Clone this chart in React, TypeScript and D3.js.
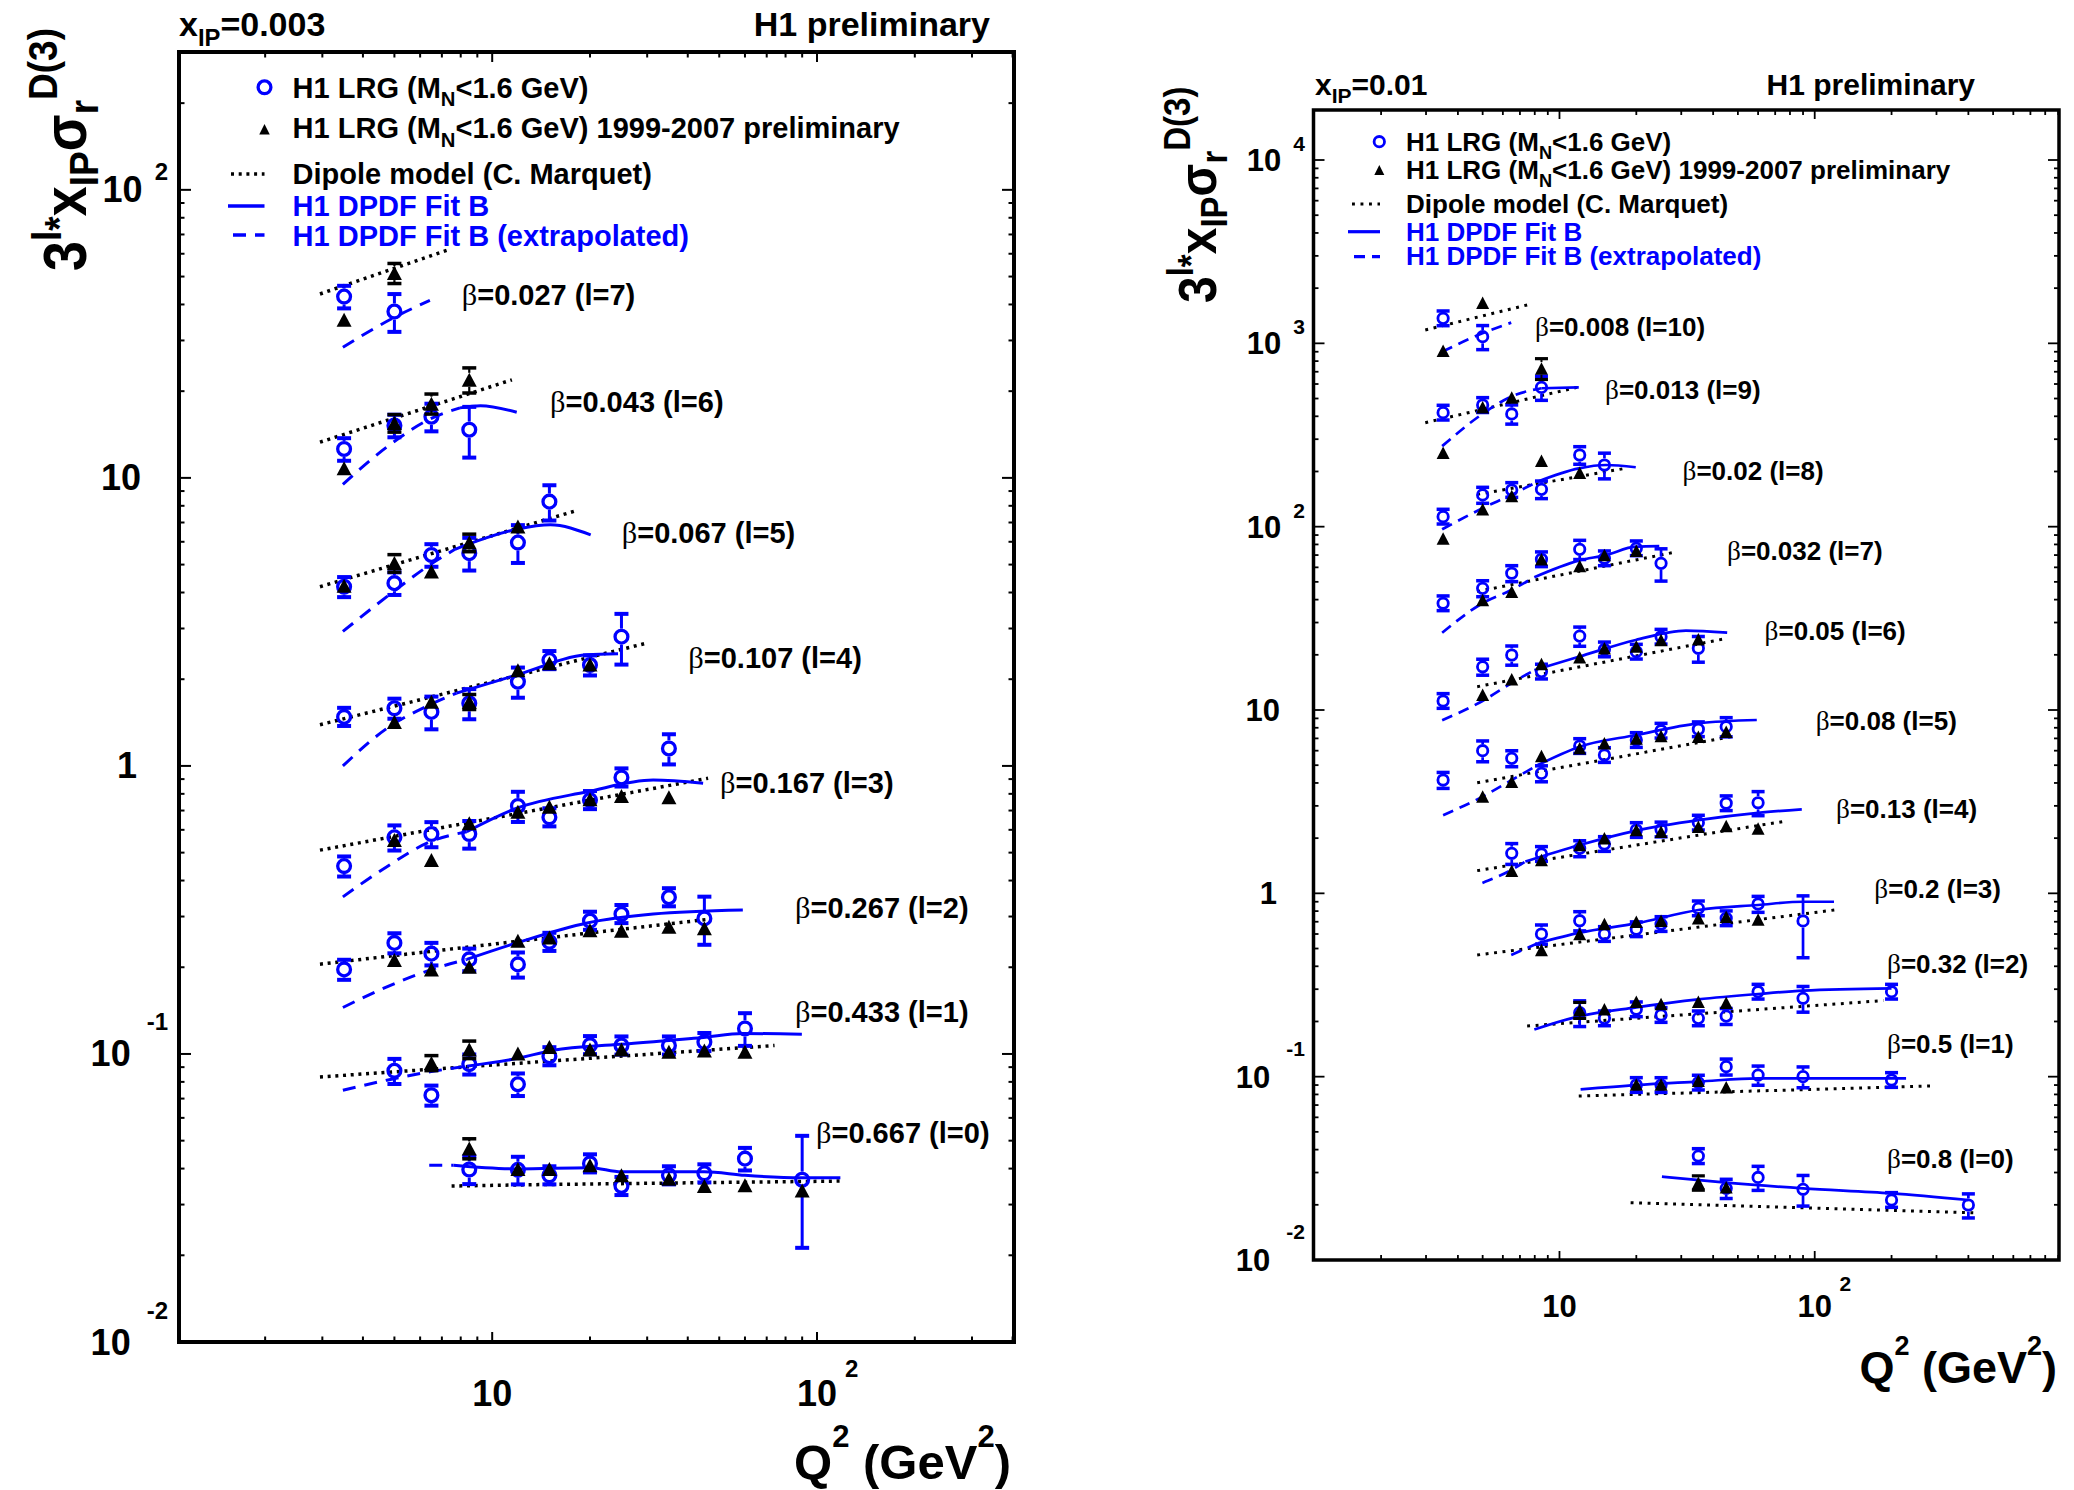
import React, { useEffect } from "react";
import * as d3 from "d3";

type Pt = [number, number];
type EPt = [number, number, number];

const SANS = "'Liberation Sans', Arial, Helvetica, sans-serif";
const SERIF = "'Liberation Serif', 'Times New Roman', serif";
const BLUE = "#0000ff";
const SX = 1.0;
const YT_SX = 1.12;

// ================= LEFT PANEL DATA (x_IP = 0.003) =================
const LEFT_XIP = "0.003";
const LEFT_X_DOMAIN: [number, number] = [1.086, 404];
const LEFT_Y_DOMAIN: [number, number] = [0.01, 301];
const LEFT_Y_TICK_EXP = [-2, -1, 0, 1, 2];
const LEFT_X_TICK_EXP = [1, 2];
const LEFT_BETA = ["0.027", "0.043", "0.067", "0.107", "0.167", "0.267", "0.433", "0.667"];
const LEFT_L = [7, 6, 5, 4, 3, 2, 1, 0];

// [Q2, value, relative error]
const LEFT_LRG: EPt[][] = [
  [[3.5, 42.6, 0.09], [5, 37.8, 0.15]],
  [[3.5, 12.6, 0.09], [5, 15.2, 0.09], [6.5, 16.3, 0.11], [8.5, 14.7, 0.2]],
  [[3.5, 4.19, 0.08], [5, 4.31, 0.09], [6.5, 5.4, 0.09], [8.5, 5.48, 0.13], [12, 5.96, 0.15], [15, 8.27, 0.14]],
  [[3.5, 1.48, 0.07], [5, 1.585, 0.08], [6.5, 1.54, 0.13], [8.5, 1.65, 0.12], [12, 1.96, 0.12], [15, 2.33, 0.05], [20, 2.24, 0.08], [25, 2.81, 0.2]],
  [[3.5, 0.449, 0.08], [5, 0.565, 0.1], [6.5, 0.58, 0.1], [8.5, 0.58, 0.11], [12, 0.726, 0.12], [15, 0.663, 0.06], [20, 0.761, 0.06], [25, 0.912, 0.07], [35, 1.15, 0.12]],
  [[3.5, 0.1966, 0.08], [5, 0.243, 0.08], [6.5, 0.223, 0.09], [8.5, 0.213, 0.09], [12, 0.2046, 0.1], [15, 0.245, 0.04], [20, 0.29, 0.06], [25, 0.306, 0.06], [35, 0.35, 0.07], [45, 0.2955, 0.19]],
  [[5, 0.0874, 0.1], [6.5, 0.0719, 0.08], [8.5, 0.0922, 0.08], [12, 0.0785, 0.09], [15, 0.0982, 0.04], [20, 0.1073, 0.05], [25, 0.107, 0.04], [35, 0.107, 0.05], [45, 0.11, 0.06], [60, 0.1226, 0.13]],
  [[8.5, 0.0397, 0.11], [12, 0.0396, 0.11], [15, 0.0379, 0.04], [20, 0.0417, 0.05], [25, 0.0348, 0.05], [35, 0.0379, 0.04], [45, 0.0385, 0.06], [60, 0.0433, 0.09], [90, 0.0366, 0.42]],
];

const LEFT_PRELIM: EPt[][] = [
  [[3.5, 35.4, 0.05], [5, 51.4, 0.08]],
  [[3.5, 10.8, 0.05], [5, 15.5, 0.07], [6.5, 18.1, 0.08], [8.5, 21.9, 0.1]],
  [[3.5, 4.22, 0.03], [5, 5.06, 0.07], [6.5, 4.73, 0.05], [8.5, 5.96, 0.07], [12, 6.78, 0.04]],
  [[5, 1.42, 0.03], [6.5, 1.67, 0.05], [8.5, 1.67, 0.06], [12, 2.15, 0.05], [15, 2.27, 0.03], [20, 2.25, 0.04]],
  [[5, 0.553, 0.03], [6.5, 0.471, 0.03], [8.5, 0.632, 0.05], [12, 0.693, 0.03], [15, 0.722, 0.03], [20, 0.766, 0.03], [25, 0.786, 0.03], [35, 0.778, 0.03]],
  [[5, 0.212, 0.04], [6.5, 0.1966, 0.03], [8.5, 0.2007, 0.03], [12, 0.247, 0.03], [15, 0.2538, 0.03], [20, 0.269, 0.03], [25, 0.268, 0.03], [35, 0.2764, 0.03], [45, 0.273, 0.03]],
  [[6.5, 0.0931, 0.06], [8.5, 0.1036, 0.07], [12, 0.1004, 0.03], [15, 0.1058, 0.03], [20, 0.1036, 0.03], [25, 0.1036, 0.03], [35, 0.1017, 0.03], [45, 0.1028, 0.03], [60, 0.1017, 0.03]],
  [[8.5, 0.047, 0.08], [12, 0.0399, 0.03], [15, 0.0399, 0.03], [20, 0.0411, 0.03], [25, 0.0379, 0.03], [35, 0.0369, 0.03], [45, 0.0348, 0.03], [60, 0.035, 0.03], [90, 0.0336, 0.03]],
];

const LEFT_DIPOLE: Pt[][] = [
  [[2.95, 43.5], [7.35, 62]],
  [[2.95, 13.3], [11.5, 21.9]],
  [[2.95, 4.19], [18.4, 7.73]],
  [[2.95, 1.39], [29.9, 2.67]],
  [[2.95, 0.51], [46.2, 0.906]],
  [[2.95, 0.205], [45.7, 0.293]],
  [[2.95, 0.0832], [74, 0.107]],
  [[7.5, 0.0348], [14, 0.0352], [118, 0.0362]],
];

const LEFT_FIT: Pt[][] = [
  [],
  [[7.96, 17.5], [9.2, 17.8], [11.9, 16.9]],
  [[7.68, 5.65], [11.9, 6.63], [15.1, 6.87], [20.1, 6.34]],
  [[7.77, 1.79], [11.9, 2.07], [19.6, 2.43], [24.4, 2.45]],
  [[8.35, 0.591], [11.9, 0.713], [19.6, 0.813], [31.3, 0.893], [44.6, 0.87]],
  [[8.35, 0.213], [11.9, 0.243], [19.6, 0.285], [31.3, 0.306], [59.1, 0.316]],
  [[8.35, 0.0907], [11.9, 0.0964], [15.4, 0.103], [24.7, 0.108], [44.6, 0.114], [59.1, 0.1178], [89.8, 0.117]],
  [[7.6, 0.0411], [12, 0.0399], [20, 0.0403], [25, 0.039], [45, 0.039], [60, 0.0379], [90, 0.0372], [118, 0.0372]],
];

const LEFT_FIT_EXTRAP: Pt[][] = [
  [[3.47, 28.4], [5, 36.1], [6.43, 41.3]],
  [[3.47, 9.5], [4.74, 12.8], [6.43, 16.0], [7.96, 17.5]],
  [[3.47, 2.93], [4.74, 3.87], [6.43, 4.99], [7.68, 5.65]],
  [[3.47, 1.0], [4.74, 1.35], [6.43, 1.63], [7.77, 1.79]],
  [[3.47, 0.351], [4.74, 0.447], [6.43, 0.545], [8.35, 0.591]],
  [[3.47, 0.145], [4.74, 0.171], [6.43, 0.1955], [8.35, 0.213]],
  [[3.47, 0.0748], [4.74, 0.0811], [6.43, 0.0867], [8.35, 0.0907]],
  [[6.4, 0.0411], [7.6, 0.0411]],
];

// ================= RIGHT PANEL DATA (x_IP = 0.01) =================
const RIGHT_XIP = "0.01";
const RIGHT_X_DOMAIN: [number, number] = [1.087, 906];
const RIGHT_Y_DOMAIN: [number, number] = [0.01, 18740];
const RIGHT_Y_TICK_EXP = [-2, -1, 0, 1, 2, 3, 4];
const RIGHT_X_TICK_EXP = [1, 2];
const RIGHT_BETA = ["0.008", "0.013", "0.02", "0.032", "0.05", "0.08", "0.13", "0.2", "0.32", "0.5", "0.8"];
const RIGHT_L = [10, 9, 8, 7, 6, 5, 4, 3, 2, 1, 0];

const RIGHT_LRG: EPt[][] = [
  [[3.5, 1369, 0.06], [5, 1087, 0.15]],
  [[3.5, 418.7, 0.08], [5, 461, 0.09], [6.5, 412, 0.12], [8.5, 575, 0.15]],
  [[3.5, 113.4, 0.06], [5, 149, 0.1], [6.5, 158.5, 0.08], [8.5, 159.8, 0.11], [12, 246, 0.11], [15, 217, 0.16]],
  [[3.5, 38.2, 0.08], [5, 46.1, 0.1], [6.5, 55.7, 0.1], [8.5, 66.4, 0.08], [12, 75.2, 0.12], [15, 67.2, 0.06], [20, 76.2, 0.06], [25, 63.1, 0.2]],
  [[3.5, 11.2, 0.08], [5, 17.2, 0.1], [6.5, 19.95, 0.12], [8.5, 16.2, 0.08], [12, 25.3, 0.12], [15, 21.4, 0.06], [20, 20.8, 0.06], [25, 25.1, 0.06], [35, 21.7, 0.16]],
  [[3.5, 4.15, 0.1], [5, 6.0, 0.13], [6.5, 5.45, 0.1], [8.5, 4.51, 0.1], [12, 6.36, 0.08], [15, 5.68, 0.06], [20, 6.86, 0.05], [25, 7.71, 0.05], [35, 7.85, 0.06], [45, 8.11, 0.12]],
  [[6.5, 1.653, 0.13], [8.5, 1.64, 0.08], [12, 1.76, 0.1], [15, 1.858, 0.05], [20, 2.215, 0.06], [25, 2.23, 0.06], [35, 2.43, 0.05], [45, 3.1, 0.06], [60, 3.12, 0.15]],
  [[8.5, 0.6, 0.12], [12, 0.709, 0.12], [15, 0.6, 0.06], [20, 0.637, 0.08], [25, 0.68, 0.06], [35, 0.828, 0.06], [45, 0.731, 0.08], [60, 0.875, 0.1], [90, 0.707, 0.37]],
  [[12, 0.2234, 0.16], [15, 0.208, 0.06], [20, 0.233, 0.06], [25, 0.217, 0.06], [35, 0.208, 0.06], [45, 0.214, 0.1], [60, 0.2907, 0.08], [90, 0.2676, 0.16], [200, 0.2907, 0.06]],
  [[20, 0.09006, 0.06], [25, 0.09, 0.06], [35, 0.0928, 0.06], [45, 0.1134, 0.1], [60, 0.102, 0.12], [90, 0.1, 0.13], [200, 0.0959, 0.06]],
  [[35, 0.0369, 0.09], [45, 0.0246, 0.12], [60, 0.0282, 0.15], [90, 0.0243, 0.19], [200, 0.02125, 0.06], [400, 0.01995, 0.15]],
];

const RIGHT_PRELIM: EPt[][] = [
  [[3.5, 912, 0.05], [5, 1667, 0.07]],
  [[3.5, 253, 0.03], [5, 448, 0.04], [6.5, 507, 0.07], [8.5, 730, 0.13]],
  [[3.5, 86.3, 0.06], [5, 124.4, 0.04], [6.5, 147, 0.04], [8.5, 229, 0.04], [12, 197, 0.04]],
  [[5, 39.8, 0.04], [6.5, 44.2, 0.04], [8.5, 66.4, 0.04], [12, 61, 0.04], [15, 70, 0.04], [20, 74, 0.04]],
  [[5, 12.1, 0.04], [6.5, 14.7, 0.04], [8.5, 17.8, 0.04], [12, 19.4, 0.04], [15, 21.7, 0.04], [20, 22.2, 0.04], [25, 24.1, 0.04], [35, 24.3, 0.07]],
  [[5, 3.37, 0.06], [6.5, 4.06, 0.04], [8.5, 5.61, 0.04], [12, 6.18, 0.04], [15, 6.58, 0.04], [20, 7.0, 0.04], [25, 7.21, 0.04], [35, 7.15, 0.04], [45, 7.62, 0.04]],
  [[6.5, 1.33, 0.04], [8.5, 1.52, 0.04], [12, 1.835, 0.04], [15, 1.995, 0.04], [20, 2.215, 0.04], [25, 2.17, 0.04], [35, 2.31, 0.04], [45, 2.33, 0.04], [60, 2.26, 0.04]],
  [[8.5, 0.491, 0.04], [12, 0.6, 0.04], [15, 0.68, 0.04], [20, 0.7, 0.04], [25, 0.709, 0.04], [35, 0.731, 0.04], [45, 0.746, 0.04], [60, 0.721, 0.04]],
  [[12, 0.231, 0.1], [15, 0.233, 0.04], [20, 0.2564, 0.04], [25, 0.249, 0.04], [35, 0.2564, 0.04], [45, 0.253, 0.04]],
  [[20, 0.0905, 0.04], [25, 0.0905, 0.04], [35, 0.0951, 0.04], [45, 0.0875, 0.04]],
  [[35, 0.0264, 0.09], [45, 0.0249, 0.04]],
];

const RIGHT_DIPOLE: Pt[][] = [
  [[2.98, 1183], [7.47, 1619]],
  [[2.98, 369], [11.7, 575]],
  [[4.76, 150], [18.1, 208]],
  [[4.76, 44.3], [28.9, 73]],
  [[4.76, 13.4], [45.4, 24.6]],
  [[4.76, 4.01], [46.8, 7.15]],
  [[4.76, 1.33], [74.7, 2.46]],
  [[4.76, 0.461], [119.3, 0.811]],
  [[7.47, 0.189], [186, 0.26]],
  [[11.9, 0.0784], [289, 0.089]],
  [[19, 0.02055], [418, 0.0181]],
];

const RIGHT_FIT: Pt[][] = [
  [],
  [[8.5, 569], [11.9, 575]],
  [[8.2, 176], [11.9, 208], [15.2, 217], [19.9, 211]],
  [[7.97, 53], [11.9, 65.3], [15.2, 70], [19.9, 77.8], [24.6, 78.4]],
  [[7.97, 16.5], [11.9, 19.5], [19.9, 24.1], [31.3, 27.1], [45.4, 26.4]],
  [[8.09, 4.95], [12, 6.31], [20, 7.31], [35, 8.46], [59.3, 8.82]],
  [[7.35, 1.49], [12, 1.835], [20, 2.2], [35, 2.51], [60, 2.75], [89, 2.87]],
  [[8.23, 0.534], [12, 0.61], [20, 0.686], [35, 0.811], [60, 0.864], [90, 0.9], [119, 0.9]],
  [[7.97, 0.181], [12, 0.214], [20, 0.239], [35, 0.264], [60, 0.2825], [90, 0.2945], [200, 0.303]],
  [[12.1, 0.0853], [20, 0.09], [35, 0.094], [60, 0.098], [90, 0.098], [228, 0.098]],
  [[25.2, 0.02847], [45, 0.0264], [90, 0.0246], [200, 0.0231], [400, 0.02125]],
];

const RIGHT_FIT_EXTRAP: Pt[][] = [
  [[3.47, 900], [4.99, 1135], [6.47, 1297]],
  [[3.47, 275], [4.99, 412], [6.47, 512], [8.5, 569]],
  [[3.47, 96.7], [4.99, 126], [6.47, 149], [8.2, 176]],
  [[3.47, 26.4], [4.99, 38.2], [6.47, 45.1], [7.97, 53]],
  [[3.47, 8.8], [4.99, 11.2], [6.47, 14.0], [7.97, 16.5]],
  [[3.5, 2.67], [5, 3.37], [6.5, 4.15], [8.09, 4.95]],
  [[4.99, 1.14], [6.47, 1.34], [7.35, 1.49]],
  [[6.47, 0.461], [8.23, 0.534]],
  [],
  [],
  [],
];

// ================= LAYOUT / STYLE =================
type Layout = {
  x0: number; x1: number; y0: number; y1: number; frameW: number;
  tickMajor: number; tickMinor: number; tickW: number;
  markR: number; markSW: number; errW: number; capW: number; capH: number;
  triW: number; triH: number; triErrW: number; triCapW: number; triCapH: number;
  dotDash: string; dotW: number; dashDash: string; lineW: number;
  betaF: number; betaPos: Pt[];
  yLab: { f: number; ef: number; base: number; end: number; end1: number; end0: number; posRaise: number; negRaise: number; posDx: number; negDx: number };
  xLab: { f: number; ef: number; base: number; expDx: number; expBase: number };
  xTitle: { end: number; base: number; f: number; sf: number; raise: number };
  yTitle: { x: number; y: number; f: number; sf: number };
  title: { x: number; end: number; base: number; f: number };
  legend: { mx: number; tx: number; f: number; ys: number[]; tb: number[]; lx0: number[]; lx1: number; triS: number };
};

const LEFT_LAYOUT: Layout = {
  x0: 179, x1: 1014, y0: 52, y1: 1342, frameW: 4,
  tickMajor: 10, tickMinor: 5.5, tickW: 2,
  markR: 6.4, markSW: 3.3, errW: 3, capW: 14, capH: 4,
  triW: 15, triH: 14, triErrW: 2.2, triCapW: 14, triCapH: 3.5,
  dotDash: "3 4.7", dotW: 3.5, dashDash: "13 9", lineW: 3,
  betaF: 29,
  betaPos: [[461.7, 305], [550, 411.7], [621.7, 543.3], [688.3, 668.3], [720, 793.3], [795, 918.3], [795, 1021.7], [816, 1143.3]],
  yLab: { f: 36, ef: 24, base: 12.5, end: 168, end1: 141, end0: 137, posRaise: 22, negRaise: 36, posDx: 12, negDx: 16 },
  xLab: { f: 36, ef: 24, base: 1406, expDx: 28, expBase: 1377 },
  xTitle: { end: 1011, base: 1479, f: 49, sf: 31, raise: 32 },
  yTitle: { x: 86, y: 271, f: 54, sf: 37 },
  title: { x: 179, end: 990, base: 36, f: 34 },
  legend: { mx: 264.5, tx: 292.6, f: 29, ys: [87.3, 129.3, 174, 206, 235], tb: [97.5, 138, 184, 216, 245.5], lx0: [231, 228, 233], lx1: 264.5, triS: 10.5 },
};

const RIGHT_LAYOUT: Layout = {
  x0: 1313.5, x1: 2059, y0: 110, y1: 1260, frameW: 3.5,
  tickMajor: 9, tickMinor: 5, tickW: 1.8,
  markR: 5.2, markSW: 2.8, errW: 2.7, capW: 13, capH: 3.5,
  triW: 13, triH: 12.5, triErrW: 2, triCapW: 13, triCapH: 3.2,
  dotDash: "2.9 5.6", dotW: 3, dashDash: "11 7", lineW: 2.7,
  betaF: 26,
  betaPos: [[1535, 336], [1605, 399.3], [1682.5, 480], [1727, 560], [1764.6, 640], [1815.7, 730], [1836, 818.3], [1874.3, 898.3], [1887, 973.3], [1887, 1053.3], [1887, 1168.3]],
  yLab: { f: 31, ef: 21, base: 11, end: 1305, end1: 1280, end0: 1277, posRaise: 20, negRaise: 32, posDx: 12, negDx: 16 },
  xLab: { f: 31, ef: 21, base: 1317, expDx: 24.7, expBase: 1291 },
  xTitle: { end: 2057, base: 1383, f: 45, sf: 27, raise: 28 },
  yTitle: { x: 1216, y: 303, f: 48, sf: 33 },
  title: { x: 1315, end: 1975, base: 95, f: 30 },
  legend: { mx: 1379.3, tx: 1406, f: 26, ys: [141.7, 170, 204, 231.7, 256.7], tb: [150.8, 179, 212.5, 240.8, 265], lx0: [1352, 1348, 1354], lx1: 1380, triS: 10 },
};

// ================= HELPERS =================
function T(props: { x: number; y: number; size: number; anchor?: string; fill?: string; weight?: string; family?: string; children: React.ReactNode }) {
  const { x, y, size, anchor = "start", fill = "#000", weight = "bold", family = SANS, children } = props;
  return (
    <text transform={`translate(${x},${y}) scale(${SX},1)`} fontSize={size} textAnchor={anchor as any} fill={fill} fontWeight={weight} fontFamily={family}>
      {children}
    </text>
  );
}

function logTicks(dom: [number, number]) {
  const res: { v: number; major: boolean }[] = [];
  const e0 = Math.floor(Math.log10(dom[0]));
  const e1 = Math.ceil(Math.log10(dom[1]));
  for (let e = e0; e <= e1; e++) {
    for (let k = 1; k <= 9; k++) {
      const v = k * Math.pow(10, e);
      if (v >= dom[0] * 0.9999 && v <= dom[1] * 1.0001) res.push({ v, major: k === 1 });
    }
  }
  return res;
}

function triPath(cx: number, cy: number, w: number, h: number) {
  return `M${cx - w / 2},${cy + h / 2}L${cx + w / 2},${cy + h / 2}L${cx},${cy - h / 2}Z`;
}

type PanelProps = {
  L: Layout;
  xip: string;
  xDomain: [number, number];
  yDomain: [number, number];
  yTickExp: number[];
  xTickExp: number[];
  beta: string[];
  ls: number[];
  lrg: EPt[][];
  prelim: EPt[][];
  dipole: Pt[][];
  fit: Pt[][];
  fitExtrap: Pt[][];
};

function Panel(p: PanelProps) {
  const L = p.L;
  const x = d3.scaleLog().domain(p.xDomain).range([L.x0, L.x1]);
  const y = d3.scaleLog().domain(p.yDomain).range([L.y1, L.y0]);
  const lin = d3.line<Pt>().x((d) => x(d[0])).y((d) => y(d[1]));
  const smooth = d3.line<Pt>().x((d) => x(d[0])).y((d) => y(d[1])).curve(d3.curveMonotoneX);
  const xt = logTicks(p.xDomain);
  const yt = logTicks(p.yDomain);
  const lg = L.legend;

  const circles = p.lrg.flatMap((s, i) =>
    s.map(([q, v, e], j) => {
      const cx = x(q), cy = y(v);
      const half = L.markR + L.markSW / 2;
      const yTop = y(v * (1 + e));
      const yBot = y(Math.max(v * (1 - e), 1e-9));
      const top = Math.min(yTop, cy - half - L.capH / 2 + 1);
      const bot = Math.max(yBot, cy + half + L.capH / 2 - 1);
      return (
        <g key={`c${i}-${j}`}>
          <line x1={cx} x2={cx} y1={top} y2={cy - half} stroke={BLUE} strokeWidth={L.errW} />
          <line x1={cx} x2={cx} y1={cy + half} y2={bot} stroke={BLUE} strokeWidth={L.errW} />
          <rect x={cx - L.capW / 2} y={top - L.capH / 2} width={L.capW} height={L.capH} fill={BLUE} />
          <rect x={cx - L.capW / 2} y={bot - L.capH / 2} width={L.capW} height={L.capH} fill={BLUE} />
          <circle cx={cx} cy={cy} r={L.markR} fill="none" stroke={BLUE} strokeWidth={L.markSW} />
        </g>
      );
    })
  );

  const triangles = p.prelim.flatMap((s, i) =>
    s.map(([q, v, e], j) => {
      const cx = x(q), cy = y(v);
      const yTop = y(v * (1 + e));
      const yBot = y(Math.max(v * (1 - e), 1e-9));
      const hh = L.triH / 2;
      return (
        <g key={`t${i}-${j}`}>
          {yTop < cy - hh && (
            <g>
              <line x1={cx} x2={cx} y1={yTop} y2={cy - hh} stroke="#000" strokeWidth={L.triErrW} />
              <rect x={cx - L.triCapW / 2} y={yTop - L.triCapH / 2} width={L.triCapW} height={L.triCapH} fill="#000" />
            </g>
          )}
          {yBot > cy + hh && (
            <g>
              <line x1={cx} x2={cx} y1={cy + hh} y2={yBot} stroke="#000" strokeWidth={L.triErrW} />
              <rect x={cx - L.triCapW / 2} y={yBot - L.triCapH / 2} width={L.triCapW} height={L.triCapH} fill="#000" />
            </g>
          )}
          <path d={triPath(cx, cy, L.triW, L.triH)} fill="#000" />
        </g>
      );
    })
  );

  const yl = L.yLab;
  const xl = L.xLab;

  return (
    <g>
      {/* model curves */}
      {p.dipole.map((s, i) =>
        s.length ? <path key={`d${i}`} d={lin(s) || ""} fill="none" stroke="#000" strokeWidth={L.dotW} strokeDasharray={L.dotDash} /> : null
      )}
      {p.fitExtrap.map((s, i) =>
        s.length ? <path key={`fx${i}`} d={smooth(s) || ""} fill="none" stroke={BLUE} strokeWidth={L.lineW} strokeDasharray={L.dashDash} /> : null
      )}
      {p.fit.map((s, i) =>
        s.length ? <path key={`f${i}`} d={smooth(s) || ""} fill="none" stroke={BLUE} strokeWidth={L.lineW} /> : null
      )}
      {circles}
      {triangles}

      {/* frame */}
      <rect x={L.x0} y={L.y0} width={L.x1 - L.x0} height={L.y1 - L.y0} fill="none" stroke="#000" strokeWidth={L.frameW} />
      {xt.map((t, i) => {
        const len = t.major ? L.tickMajor : L.tickMinor;
        const xx = x(t.v);
        return (
          <g key={`xt${i}`}>
            <line x1={xx} x2={xx} y1={L.y1} y2={L.y1 - len} stroke="#000" strokeWidth={L.tickW} />
            <line x1={xx} x2={xx} y1={L.y0} y2={L.y0 + len} stroke="#000" strokeWidth={L.tickW} />
          </g>
        );
      })}
      {yt.map((t, i) => {
        const len = t.major ? L.tickMajor + 2 : L.tickMinor;
        const yy = y(t.v);
        return (
          <g key={`yt${i}`}>
            <line x1={L.x0} x2={L.x0 + len} y1={yy} y2={yy} stroke="#000" strokeWidth={L.tickW} />
            <line x1={L.x1} x2={L.x1 - len} y1={yy} y2={yy} stroke="#000" strokeWidth={L.tickW} />
          </g>
        );
      })}

      {/* y tick labels */}
      {p.yTickExp.map((e) => {
        const yy = y(Math.pow(10, e)) + yl.base;
        if (e === 0) return <T key={`yl${e}`} x={yl.end0} y={yy} size={yl.f} anchor="end">1</T>;
        if (e === 1) return <T key={`yl${e}`} x={yl.end1} y={yy} size={yl.f} anchor="end">10</T>;
        const raise = e < 0 ? yl.negRaise : yl.posRaise;
        return (
          <T key={`yl${e}`} x={yl.end} y={yy} size={yl.f} anchor="end">
            10
            <tspan fontSize={yl.ef} dx={e < 0 ? yl.negDx : yl.posDx} dy={-raise}>{String(e)}</tspan>
          </T>
        );
      })}

      {/* x tick labels */}
      {p.xTickExp.map((e) => {
        const xx = x(Math.pow(10, e));
        return (
          <g key={`xl${e}`}>
            <T x={xx} y={xl.base} size={xl.f} anchor="middle">10</T>
            {e !== 1 && <T x={xx + xl.expDx} y={xl.expBase} size={xl.ef}>{String(e)}</T>}
          </g>
        );
      })}

      {/* beta labels */}
      {p.beta.map((b, i) => (
        <T key={`b${i}`} x={L.betaPos[i][0]} y={L.betaPos[i][1]} size={L.betaF}>
          <tspan fontFamily={SERIF} fontWeight="normal" fontSize={L.betaF * 1.05}>β</tspan>={b} (l={p.ls[i]})
        </T>
      ))}

      {/* titles */}
      <T x={L.title.x} y={L.title.base} size={L.title.f}>
        x<tspan fontSize={L.title.f * 0.7} dy={L.title.f * 0.28}>IP</tspan>
        <tspan dy={-L.title.f * 0.28}>={p.xip}</tspan>
      </T>
      <T x={L.title.end} y={L.title.base} size={L.title.f} anchor="end">H1 preliminary</T>

      {/* x axis title */}
      <T x={L.xTitle.end} y={L.xTitle.base} size={L.xTitle.f} anchor="end">
        Q<tspan fontSize={L.xTitle.sf} dy={-L.xTitle.raise}>2</tspan>
        <tspan dy={L.xTitle.raise}> (GeV</tspan>
        <tspan fontSize={L.xTitle.sf} dy={-L.xTitle.raise}>2</tspan>
        <tspan dy={L.xTitle.raise}>)</tspan>
      </T>

      {/* y axis title */}
      <g transform={`translate(${L.yTitle.x},${L.yTitle.y}) scale(${YT_SX},1) rotate(-90)`}>
        <text fontFamily={SANS} fontWeight="bold" fontSize={L.yTitle.f} fill="#000">
          3
          <tspan fontSize={L.yTitle.sf} dy={-0.42 * L.yTitle.f}>l</tspan>
          <tspan fontSize={L.yTitle.sf} dy={0.2 * L.yTitle.f}>*</tspan>
          <tspan dy={0.22 * L.yTitle.f}>x</tspan>
          <tspan fontSize={L.yTitle.sf} dy={0.2 * L.yTitle.f}>IP</tspan>
          <tspan dy={-0.2 * L.yTitle.f}>σ</tspan>
          <tspan fontSize={L.yTitle.sf} dy={0.2 * L.yTitle.f}>r</tspan>
          <tspan fontSize={L.yTitle.sf} dy={-0.68 * L.yTitle.f}>D(3)</tspan>
        </text>
      </g>

      {/* legend */}
      <circle cx={lg.mx} cy={lg.ys[0]} r={L.markR} fill="none" stroke={BLUE} strokeWidth={L.markSW} />
      <path d={triPath(lg.mx, lg.ys[1], lg.triS, lg.triS)} fill="#000" />
      <line x1={lg.lx0[0]} x2={lg.lx1} y1={lg.ys[2]} y2={lg.ys[2]} stroke="#000" strokeWidth={L.dotW} strokeDasharray={L.dotDash} />
      <line x1={lg.lx0[1]} x2={lg.lx1} y1={lg.ys[3]} y2={lg.ys[3]} stroke={BLUE} strokeWidth={L.lineW + 0.5} />
      <line x1={lg.lx0[2]} x2={lg.lx1} y1={lg.ys[4]} y2={lg.ys[4]} stroke={BLUE} strokeWidth={L.lineW + 0.5} strokeDasharray={L.dashDash} />
      <T x={lg.tx} y={lg.tb[0]} size={lg.f}>
        H1 LRG (M<tspan fontSize={lg.f * 0.7} dy={lg.f * 0.3}>N</tspan>
        <tspan dy={-lg.f * 0.3}>&lt;1.6 GeV)</tspan>
      </T>
      <T x={lg.tx} y={lg.tb[1]} size={lg.f}>
        H1 LRG (M<tspan fontSize={lg.f * 0.7} dy={lg.f * 0.3}>N</tspan>
        <tspan dy={-lg.f * 0.3}>&lt;1.6 GeV) 1999-2007 preliminary</tspan>
      </T>
      <T x={lg.tx} y={lg.tb[2]} size={lg.f}>Dipole model (C. Marquet)</T>
      <T x={lg.tx} y={lg.tb[3]} size={lg.f} fill={BLUE}>H1 DPDF Fit B</T>
      <T x={lg.tx} y={lg.tb[4]} size={lg.f} fill={BLUE}>H1 DPDF Fit B (extrapolated)</T>
    </g>
  );
}

if (typeof document !== "undefined" && document.body) document.body.style.margin = "0";

export default function App() {
  useEffect(() => {
    document.body.style.margin = "0";
  }, []);
  return (
    <svg width={2074} height={1490} style={{ display: "block", background: "#fff" }}>
      <rect x={0} y={0} width={2074} height={1490} fill="#fff" />
      <Panel
        L={LEFT_LAYOUT}
        xip={LEFT_XIP}
        xDomain={LEFT_X_DOMAIN}
        yDomain={LEFT_Y_DOMAIN}
        yTickExp={LEFT_Y_TICK_EXP}
        xTickExp={LEFT_X_TICK_EXP}
        beta={LEFT_BETA}
        ls={LEFT_L}
        lrg={LEFT_LRG}
        prelim={LEFT_PRELIM}
        dipole={LEFT_DIPOLE}
        fit={LEFT_FIT}
        fitExtrap={LEFT_FIT_EXTRAP}
      />
      <Panel
        L={RIGHT_LAYOUT}
        xip={RIGHT_XIP}
        xDomain={RIGHT_X_DOMAIN}
        yDomain={RIGHT_Y_DOMAIN}
        yTickExp={RIGHT_Y_TICK_EXP}
        xTickExp={RIGHT_X_TICK_EXP}
        beta={RIGHT_BETA}
        ls={RIGHT_L}
        lrg={RIGHT_LRG}
        prelim={RIGHT_PRELIM}
        dipole={RIGHT_DIPOLE}
        fit={RIGHT_FIT}
        fitExtrap={RIGHT_FIT_EXTRAP}
      />
    </svg>
  );
}
